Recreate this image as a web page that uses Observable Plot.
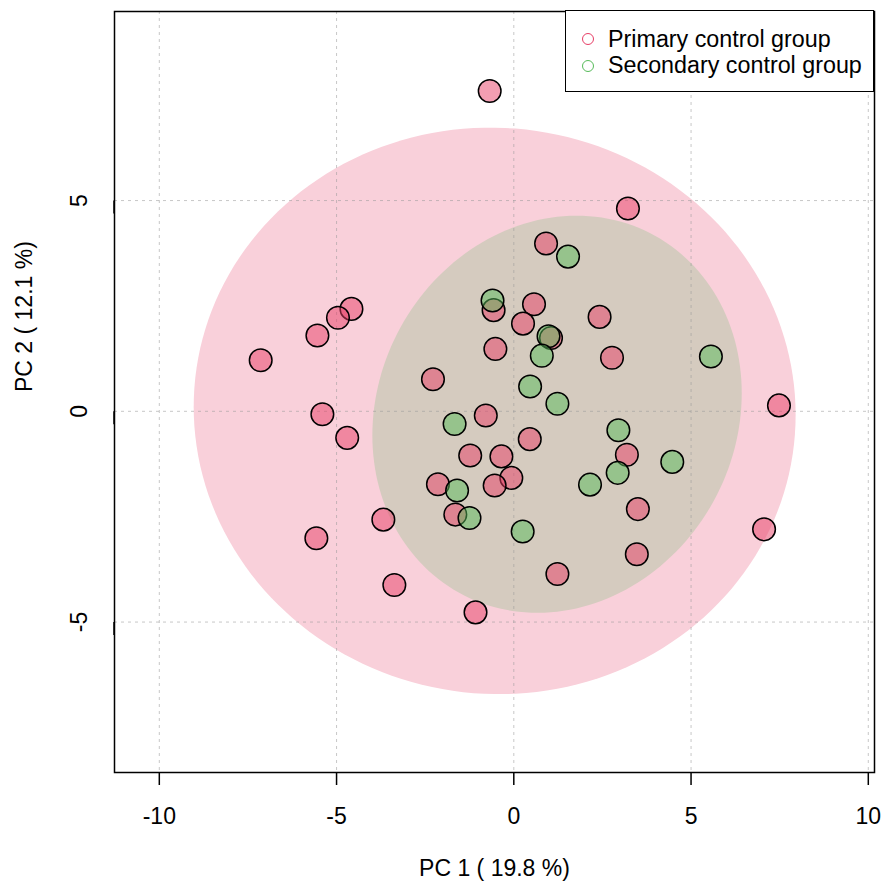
<!DOCTYPE html>
<html>
<head>
<meta charset="utf-8">
<script src="https://cdn.jsdelivr.net/npm/d3@7"></script>
<script src="https://cdn.jsdelivr.net/npm/@observablehq/plot@0.6"></script>
<style>
  html, body { margin: 0; padding: 0; background: #fff; }
  #wrap { position: relative; width: 884px; height: 886px; font-family: "Liberation Sans", Arial, sans-serif; }
  .lg-box { position: absolute; left: 565px; top: 10px; width: 309px; height: 82px; box-sizing: border-box; border: 1.5px solid #000; background: #fff; }
  .lg-dot { position: absolute; width: 10px; height: 10px; border-radius: 50%; border: 1.5px solid; box-sizing: content-box; }
  .lg-txt { position: absolute; left: 608px; height: 26px; line-height: 26px; font-size: 23.3px; color: #000; white-space: nowrap; }
</style>
</head>
<body>
<div id="wrap"></div>
<script>
// ---- data ----
const groups = ["Primary control group", "Secondary control group"];
const groupColors = ["#E73E66", "#57BB5A"];

const primaryX = [-0.68, 3.22, 0.91, -0.57, 0.57, 0.26, 2.42, 1.05, -0.52, 2.77, -2.28, 7.48,
  -0.79, 0.45, 3.19, -1.23, -0.35, -0.07, -0.54, -2.14, -1.65, -3.68, -5.57, 3.50, 3.47, 7.06,
  -3.37, 1.23, -1.08, -4.58, -4.96, -5.54, -7.14, -5.40, -4.70];
const primaryY = [7.60, 4.81, 3.98, 2.40, 2.54, 2.08, 2.24, 1.74, 1.48, 1.27, 0.76, 0.14,
  -0.10, -0.66, -1.03, -1.05, -1.07, -1.58, -1.76, -1.73, -2.45, -2.57, -3.01, -2.32, -3.39, -2.80,
  -4.12, -3.86, -4.77, 2.43, 2.22, 1.80, 1.21, -0.07, -0.63];

const secondaryX = [1.53, -0.60, 0.98, 0.79, 5.56, 0.46, 1.23, -1.67, 2.95, 4.47, -1.60, 2.93, 2.15, -1.25, 0.25];
const secondaryY = [3.67, 2.63, 1.78, 1.32, 1.30, 0.59, 0.18, -0.30, -0.45, -1.20, -1.88, -1.46, -1.74, -2.53, -2.85];

// ellipse parameters: center x, center y, sd-x, sd-y, covariance term (data units)
const outerEllipse = [-0.54, 0.01, 8.49, 6.72, -0.8];
const innerEllipse = [1.22, -0.07, 5.21, 4.71, 2.6];
const ellipseFills = ["#F9D0DA", "#D5CBBF"];

const xTicks = [-10, -5, 0, 5, 10];
const xTickLabels = ["-10", "-5", "0", "5", "10"];
const yTicks = [-5, 0, 5];
const yTickLabels = ["-5", "0", "5"];
const xTitle = "PC 1 ( 19.8 %)";
const yTitle = "PC 2 ( 12.1 %)";

// ---- build tables ----
const primary = primaryX.map((x, i) => ({x, y: primaryY[i]}));
const secondary = secondaryX.map((x, i) => ({x, y: secondaryY[i]}));

function ellipsePath([cx, cy, sx, sy, sxy]) {
  const b = sxy / sx, c = Math.sqrt(sy * sy - b * b);
  const pts = [];
  for (let k = 0; k < 180; k++) {
    const t = 2 * Math.PI * k / 180;
    pts.push({x: cx + sx * Math.cos(t), y: cy + b * Math.cos(t) + c * Math.sin(t)});
  }
  return pts;
}

const font = "\"Liberation Sans\", Arial, sans-serif";

const chart = Plot.plot({
  width: 884,
  height: 886,
  marginTop: 11,
  marginRight: 10,
  marginBottom: 114,
  marginLeft: 114,
  style: {fontFamily: font, fontSize: "23px", color: "#000", background: "#fff"},
  x: {domain: [-11.264, 10.175]},
  y: {domain: [-8.569, 9.485]},
  marks: [
    Plot.line(ellipsePath(outerEllipse), {x: "x", y: "y", fill: ellipseFills[0], stroke: "none", curve: "linear-closed"}),
    Plot.line(ellipsePath(innerEllipse), {x: "x", y: "y", fill: ellipseFills[1], stroke: "none", curve: "linear-closed"}),
    Plot.gridX(xTicks, {stroke: "#999", strokeOpacity: 0.55, strokeWidth: 1, strokeDasharray: "3,4"}),
    Plot.gridY(yTicks, {stroke: "#999", strokeOpacity: 0.55, strokeWidth: 1, strokeDasharray: "3,4"}),
    Plot.dot(primary, {x: "x", y: "y", r: 11.3, fill: groupColors[0], fillOpacity: 0.5, stroke: "#000", strokeWidth: 1.5}),
    Plot.dot(secondary, {x: "x", y: "y", r: 11.3, fill: groupColors[1], fillOpacity: 0.5, stroke: "#000", strokeWidth: 1.5}),
    Plot.frame({stroke: "#000", strokeWidth: 1.5}),
    Plot.axisX(xTicks, {tickSize: 13, tickPadding: 22, strokeWidth: 1.5, fontSize: 23, label: null,
      tickFormat: (d, i) => xTickLabels[xTicks.indexOf(d)]}),
    Plot.axisY(yTicks, {tickSize: 13, tickPadding: 22, strokeWidth: 1.5, fontSize: 23, label: null,
      rotate: -90, textAnchor: "middle", lineAnchor: "middle",
      tickFormat: (d) => yTickLabels[yTicks.indexOf(d)]}),
    Plot.text([xTitle], {text: d => d, frameAnchor: "bottom", dy: 96, fontSize: 23, lineAnchor: "middle"}),
    Plot.text([yTitle], {text: d => d, frameAnchor: "left", dx: -90, rotate: -90, fontSize: 23, lineAnchor: "middle"})
  ]
});

const wrap = document.getElementById("wrap");
wrap.appendChild(chart);

// legend (inside plot area, top-right)
const box = document.createElement("div");
box.className = "lg-box";
wrap.appendChild(box);
const rowsY = [39.3, 66];
const textTops = [25.5, 52];
groups.forEach((g, i) => {
  const dot = document.createElement("div");
  dot.className = "lg-dot";
  dot.style.left = (588 - 6.5) + "px";
  dot.style.top = (rowsY[i] - 6.5) + "px";
  dot.style.borderColor = groupColors[i];
  wrap.appendChild(dot);
  const t = document.createElement("div");
  t.className = "lg-txt";
  t.style.top = textTops[i] + "px";
  t.textContent = g;
  wrap.appendChild(t);
});
</script>
</body>
</html>
